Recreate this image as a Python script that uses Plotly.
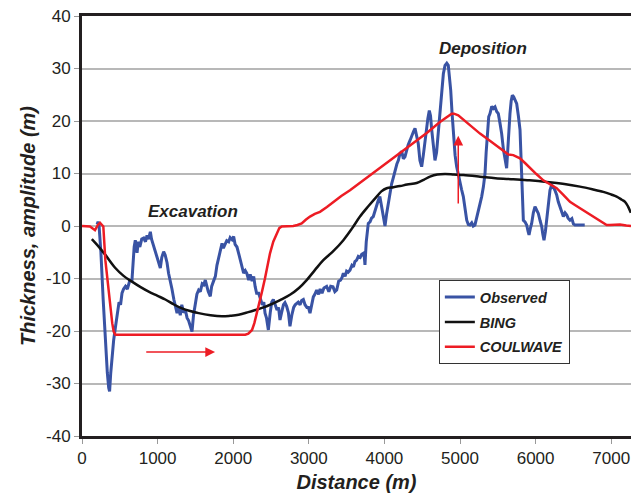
import plotly.graph_objects as go

# observed profile (distance m, thickness m)
obs_x = [200, 212, 225, 250, 280, 310, 335, 353, 365, 380, 400, 419, 445, 470, 490, 510, 529, 550, 575, 600,
         630, 661, 680, 690, 705, 715, 728, 745, 765, 790, 816, 840, 860, 880, 904, 920, 948, 970, 990, 1010,
         1036, 1055, 1080, 1100, 1125, 1145, 1168, 1190, 1215, 1235, 1257, 1280, 1300, 1320, 1345, 1367, 1390,
         1410, 1435, 1455, 1475, 1500, 1520, 1543, 1565, 1590, 1610, 1631, 1650, 1670, 1697, 1715, 1740, 1764,
         1785, 1810, 1830, 1852, 1870, 1895, 1915, 1940, 1960, 1985, 2006, 2025, 2050, 2072, 2095, 2115, 2138,
         2160, 2180, 2205, 2225, 2250, 2271, 2290, 2310, 2337, 2360, 2385, 2405, 2421, 2440, 2465, 2490, 2510,
         2531, 2555, 2580, 2600, 2619, 2640, 2665, 2685, 2707, 2730, 2751, 2775, 2800, 2820, 2840, 2860, 2885,
         2905, 2928, 2950, 2975, 2995, 3016, 3040, 3060, 3080, 3104, 3130, 3150, 3175, 3200, 3236, 3265, 3290,
         3320, 3345, 3369, 3395, 3420, 3440, 3457, 3480, 3500, 3520, 3545, 3570, 3590, 3610, 3633, 3655, 3680,
         3700, 3721, 3735, 3743, 3760, 3787, 3810, 3830, 3853, 3875, 3895, 3919, 3940, 3964, 3985, 4008, 4030,
         4052, 4074, 4095, 4118, 4140, 4165, 4185, 4206, 4230, 4250, 4272, 4295, 4315, 4339, 4360, 4385, 4405,
         4425, 4448, 4470, 4493, 4515, 4535, 4559, 4575, 4594, 4610, 4626, 4645, 4669, 4690, 4713, 4735, 4758,
         4780, 4802, 4825, 4845, 4860, 4877, 4895, 4911, 4935, 4956, 4980, 5000, 5020, 5044, 5065, 5089, 5110,
         5132, 5155, 5175, 5198, 5220, 5242, 5265, 5287, 5310, 5331, 5346, 5361, 5380, 5397, 5420, 5441, 5463,
         5485, 5507, 5530, 5551, 5575, 5595, 5617, 5630, 5645, 5661, 5677, 5692, 5710, 5730, 5750, 5772, 5794,
         5805, 5816, 5828, 5838, 5860, 5882, 5900, 5913, 5930, 5948, 5970, 5992, 6015, 6036, 6060, 6081, 6095,
         6111, 6130, 6147, 6170, 6190, 6212, 6234, 6256, 6279, 6300, 6323, 6345, 6367, 6390, 6412, 6430, 6455,
         6480, 6500, 6521, 6580, 6650]
obs_y = [0.3, 0.8, 0.2, -5, -14, -22, -28, -30.8, -31.5, -28, -24, -21.7, -19, -16, -14.5, -15, -12.8, -12, -11.5, -12,
         -10.5, -10.3, -6, -4, -2.7, -4, -5.1, -3, -4, -2.5, -2.3, -3, -1.8, -2.5, -1.1, -2.5, -3.9, -4.5, -6, -7,
         -8, -6, -4.9, -5.5, -7, -9, -10.3, -12, -14, -15.5, -16.6, -15.5, -17, -15, -16.5, -16, -17.5,
         -18, -19, -20.1, -17, -14.5, -13, -12.2, -12.5, -11, -11.2, -10.3, -11.5, -12.5, -13.4, -11.5, -10.5, -9.6,
         -7.5, -6, -4.5, -3.3, -4.2, -3.2, -2.8, -3, -2.2, -2.6, -2, -3.5, -4, -5.2, -6.5, -7.5, -9,
         -8.5, -9, -10.3, -9.2, -10.5, -9.6, -11.5, -12.8, -12.8, -14, -15, -14.5, -16.6, -17.5, -19.8, -16.5, -14.5,
         -14, -15, -16, -15.5, -17.9, -16.5, -15, -14.6, -15.3, -16.5, -19.1, -17, -15.5, -15, -14.7, -14.5, -15,
         -14.2, -14, -15, -15.5, -15.5, -16.6, -15, -13.5, -13, -12.2, -13, -12, -12.8, -11.8, -11.5, -12.5, -11.5,
         -11.6, -12.5, -12.2, -10.5, -10.3, -9.8, -9, -9.6, -8.6, -8.8, -8.4, -7.5, -7.8, -6.8, -6.5, -5.8, -6,
         -5.4, -5.2, -6, -7.4, -3, 0.5, 0.8, 1.5, 1.8, 3, 4, 4.9, 5.6, 3.7, 2, 0, 2.4,
         4.5, 6.5, 8, 9.2, 10.6, 11.8, 12.5, 13.8, 14.2, 12.8, 13.2, 14.8, 15.5, 16.3, 17.3, 18, 18.6,
         17.3, 15.7, 12.5, 11.3, 13.5, 16, 18.9, 20.5, 22, 21, 18.3, 15, 12.5, 14, 17.6, 22, 25.9,
         29, 30.6, 31, 30.6, 28.5, 25.9, 21.5, 17.6, 13.5, 11.3, 9.5, 8.1, 7, 5.6, 3, 1.1, 0.3,
         0.2, 0.6, 0, 0.2, 1.5, 3, 4.2, 5.6, 7.5, 10, 14, 17.6, 20.8, 21.4, 22.8, 22.4, 22.7,
         21.8, 21.4, 19.5, 17.6, 14.5, 12.5, 11, 14, 18.5, 21.4, 23.8, 24.9, 24.6, 23.8, 23.3, 21, 18.3,
         14, 8.7, 4, 1.1, 0.8, 0.2, -1, -1.7, -0.5, 0.5, 2.5, 3.7, 3, 2.4, 1, -0.1, -1.5,
         -2.7, -1, 1.1, 4, 6.8, 7.8, 7.5, 6.8, 5.9, 4.6, 3.7, 2.5, 1.8, 2.5, 2.1, 1.5, 1.1,
         1.4, 0.4, 0.2, 0.2, 0.2]

# BING model
bing_x = [130, 200, 309, 441, 550, 661, 770, 882, 1000, 1102, 1210, 1323, 1430, 1543, 1700, 1852, 1960, 2072,
          2200, 2293, 2400, 2487, 2620, 2751, 2870, 2972, 3080, 3192, 3330, 3457, 3570, 3677, 3790, 3898, 3960,
          4030, 4120, 4206, 4300, 4427, 4520, 4603, 4700, 4802, 4920, 5044, 5265, 5470, 5705, 5920, 6147, 6380,
          6587, 6750, 6896, 7000, 7072, 7140, 7183, 7220, 7260]
bing_y = [-2.5, -3.6, -5.5, -8, -9.5, -10.6, -11.6, -12.5, -13.3, -14, -14.9, -15.7, -16.2, -16.6, -17, -17.2, -17.1,
          -16.9, -16.4, -16, -15.5, -15, -14.1, -13.1, -11.8, -10.3, -8.4, -6.5, -4.7, -2.7, -0.5, 1.8, 3.8, 5.6,
          6.6, 7.2, 7.4, 7.6, 7.9, 8.2, 8.8, 9.4, 9.8, 9.9, 9.8, 9.7, 9.4, 9.1, 8.9, 8.7, 8.4, 8, 7.5, 7, 6.5,
          6, 5.6, 5, 4.6, 3.8, 2.5]

# COULWAVE model
coul_x = [0, 60, 106, 172, 210, 238, 260, 282, 309, 340, 375, 400, 419, 441, 600, 1000, 1500, 2000, 2160, 2200,
          2249, 2280, 2315, 2350, 2381, 2420, 2460, 2487, 2530, 2575, 2610, 2641, 2795, 2850, 2906, 2960, 3016,
          3080, 3148, 3240, 3324, 3430, 3545, 3630, 3721, 3830, 3942, 4160, 4384, 4560, 4735, 4850, 4890, 4920,
          4977, 5100, 5265, 5400, 5529, 5600, 5640, 5705, 5760, 5794, 5860, 5926, 6010, 6102, 6190, 6279, 6370,
          6455, 6520, 6587, 6680, 6764, 6830, 6896, 6940, 6984, 7050, 7116, 7200, 7262]
coul_y = [0, 0, -0.1, -0.8, 0.2, 0.6, 0.3, -0.1, -6.5, -11, -15.3, -18.5, -20.1, -20.7, -20.7, -20.7, -20.7, -20.7,
          -20.7, -20.5, -19.8, -18.5, -16.6, -14.5, -12.5, -10, -7, -5.2, -3, -1.4, -0.4, -0.1, 0, 0.2, 0.5, 1.2,
          1.8, 2.3, 2.7, 3.6, 4.6, 5.7, 6.8, 7.7, 8.7, 9.8, 11, 13.3, 15.7, 17.7, 19.8, 21, 21.4, 21.4, 21.1,
          19.6, 17.6, 16.2, 14.8, 13.9, 13.6, 13.5, 13.2, 12.9, 12, 11, 9.9, 8.7, 7.9, 7.2, 5.9, 4.6, 4, 3.4,
          2.5, 1.8, 1.1, 0.5, 0.2, 0.2, 0.2, 0.3, 0.1, 0]

y_ticks = [-40, -30, -20, -10, 0, 10, 20, 30, 40]
y_labels = ["-40", "-30", "-20", "-10", "0", "10", "20", "30", "40"]
x_ticks = [0, 1000, 2000, 3000, 4000, 5000, 6000, 7000]

ink = "#231f20"
fnt = "Liberation Sans, Arial, Helvetica, sans-serif"

fig = go.Figure()
fig.add_trace(go.Scatter(x=obs_x, y=obs_y, mode="lines", name="Observed", legendgroup="a",
                         line=dict(color="#3953a4", width=3)))
fig.add_trace(go.Scatter(x=bing_x, y=bing_y, mode="lines", name="BING", legendgroup="b",
                         line=dict(color="#111111", width=2.5, shape="spline")))
fig.add_trace(go.Scatter(x=coul_x, y=coul_y, mode="lines", name="COULWAVE", legendgroup="c",
                         line=dict(color="#ed1c24", width=2.5)))

fig.add_annotation(x=1468, y=2.8, text="Excavation", showarrow=False,
                   font=dict(family=fnt, size=17, color=ink, weight="bold", style="italic"))
fig.add_annotation(x=5304, y=33.8, text="Deposition", showarrow=False,
                   font=dict(family=fnt, size=17, color=ink, weight="bold", style="italic"))
# red arrows
fig.add_annotation(x=1760, y=-24, ax=830, ay=-24, axref="x", ayref="y", xref="x", yref="y",
                   text="", showarrow=True, arrowhead=2, arrowsize=1.3, arrowwidth=1.5, arrowcolor="#ed1c24")
fig.add_annotation(x=4977, y=17.2, ax=4977, ay=4, axref="x", ayref="y", xref="x", yref="y",
                   text="", showarrow=True, arrowhead=2, arrowsize=1.3, arrowwidth=1.5, arrowcolor="#ed1c24")

fig.update_layout(
    width=631, height=495,
    margin=dict(l=82, r=0, t=16, b=59),
    plot_bgcolor="white", paper_bgcolor="white",
    font=dict(family=fnt, color=ink),
    showlegend=True,
    legend=dict(x=0.65, y=0.371, xanchor="left", yanchor="top",
                bordercolor="#333333", borderwidth=1, bgcolor="white",
                tracegroupgap=3, itemwidth=30,
                font=dict(family=fnt, size=14.5, color=ink, weight="bold", style="italic")),
)
fig.update_xaxes(range=[0, 7262], tickvals=x_ticks,
                 showgrid=False, zeroline=False,
                 showline=True, linecolor=ink, linewidth=3, mirror=True,
                 ticks="outside", ticklen=5, tickcolor="#999999",
                 tickfont=dict(size=17, color=ink),
                 title=dict(text="Distance (m)", standoff=8,
                            font=dict(size=20, color=ink, weight="bold", style="italic")))
fig.update_yaxes(range=[-40, 40], tickvals=y_ticks, ticktext=y_labels,
                 showgrid=True, gridcolor="#b8b8b8", gridwidth=1.5, zeroline=False,
                 showline=True, linecolor=ink, linewidth=3,
                 ticks="outside", ticklen=5, tickcolor="#999999",
                 tickfont=dict(size=17, color=ink),
                 title=dict(text="Thickness, amplitude (m)", standoff=6,
                            font=dict(size=20, color=ink, weight="bold", style="italic")))

fig.write_html("out.html", config={"displayModeBar": False},
               post_script="document.body.style.margin='0px';")
